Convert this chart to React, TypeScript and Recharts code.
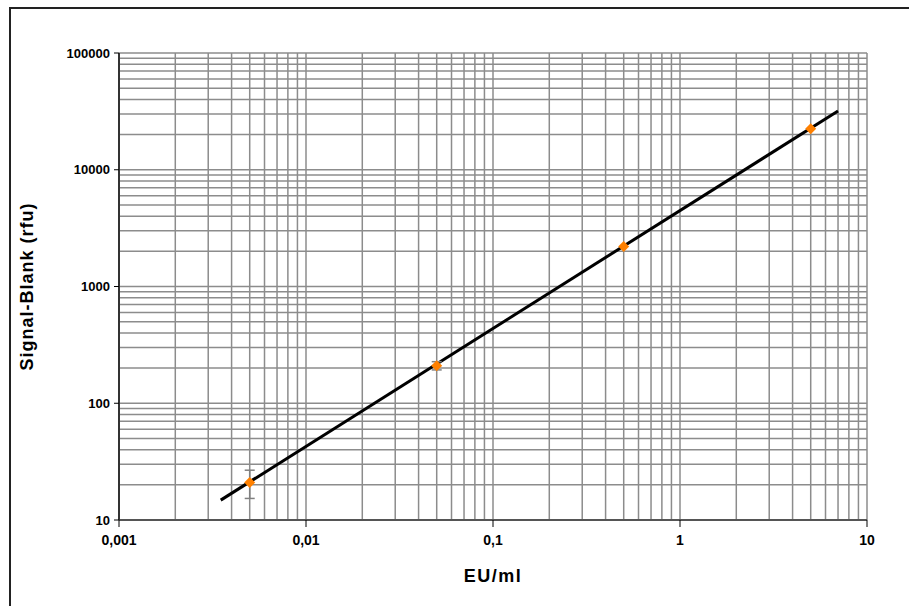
import { ComposedChart, Line, Scatter, ErrorBar, XAxis, YAxis, ReferenceLine } from 'recharts';

// measured standards (EU/ml) and blank-corrected signal (rfu)
const concentrations = [0.005, 0.05, 0.5, 5];
const signals = [21, 210, 2200, 22500];
const signalErrors = [5.7, 17, null, null];

// ends of the fitted power-law line
const fitX = [0.0035, 7];
const fitY = [14.8, 31900];

const xTicks = [0.001, 0.01, 0.1, 1, 10];
const yTicks = [10, 100, 1000, 10000, 100000];
const minorSteps = [1, 2, 3, 4, 5, 6, 7, 8, 9];

const points = concentrations.map((x, i) => ({ x, y: signals[i], err: signalErrors[i] }));
const fitLine = fitX.map((x, i) => ({ x, y: fitY[i] }));

const gridFrom = (ticks: number[]) => {
  const out: number[] = [];
  ticks.slice(0, -1).forEach((d) => minorSteps.forEach((m) => out.push(+(d * m).toPrecision(3))));
  out.push(ticks[ticks.length - 1]);
  return out;
};
const xGrid = gridFrom(xTicks);
const yGrid = gridFrom(yTicks);

const font = 'Arial, "Liberation Sans", sans-serif';
const gridColor = '#8c8c8c';

const Diamond = (props: any) => {
  const { cx, cy } = props;
  const r = 5.5;
  return (
    <polygon
      points={`${cx},${cy - r} ${cx + r},${cy} ${cx},${cy + r} ${cx - r},${cy}`}
      fill="#ff8000"
    />
  );
};

export default function App() {
  return (
    <div style={{ position: 'fixed', left: 0, top: 0, width: 909, height: 606, background: '#fff', overflow: 'hidden' }}>
      <div style={{ position: 'absolute', left: 9, top: 7, width: 1000, height: 700, border: '2px solid #222' }} />
      <ComposedChart
        width={909}
        height={606}
        margin={{ top: 53, right: 42, bottom: 0, left: 0 }}
        style={{ position: 'absolute', left: 0, top: 0, fontFamily: font }}
      >
        <XAxis
          type="number"
          dataKey="x"
          scale="log"
          domain={[0.001, 10]}
          ticks={xTicks}
          allowDataOverflow
          height={86}
          tickSize={7}
          tickMargin={8}
          axisLine={{ stroke: '#555', strokeWidth: 2 }}
          tickLine={{ stroke: '#000' }}
          tick={{ fill: '#000', fontSize: 14, fontWeight: 'bold' }}
          tickFormatter={(v) => String(v).replace('.', ',')}
        />
        <YAxis
          type="number"
          dataKey="y"
          scale="log"
          domain={[10, 100000]}
          ticks={yTicks}
          allowDataOverflow
          width={119}
          tickSize={5}
          tickMargin={4}
          axisLine={{ stroke: '#333', strokeWidth: 2 }}
          tickLine={{ stroke: '#000' }}
          tick={{ fill: '#000', fontSize: 13, fontWeight: 'bold' }}
        />
        {xGrid.map((v) => (
          <ReferenceLine key={'x' + v} x={v} stroke={gridColor} strokeWidth={1.5} ifOverflow="extendDomain" />
        ))}
        {yGrid.map((v) => (
          <ReferenceLine key={'y' + v} y={v} stroke={gridColor} strokeWidth={1.5} ifOverflow="extendDomain" />
        ))}
        <Line
          data={fitLine}
          dataKey="y"
          stroke="#000"
          strokeWidth={3}
          dot={false}
          activeDot={false}
          isAnimationActive={false}
        />
        <Scatter data={points} dataKey="y" shape={Diamond} isAnimationActive={false}>
          <ErrorBar dataKey="err" direction="y" width={5} stroke="#808080" strokeWidth={1.5} />
        </Scatter>
        <text x={493} y={582} textAnchor="middle" fontSize={18} fontWeight="bold" letterSpacing={1.5} fill="#000">
          EU/ml
        </text>
        <text
          x={33}
          y={286.5}
          transform="rotate(-90 33 286.5)"
          textAnchor="middle"
          fontSize={18}
          fontWeight="bold"
          letterSpacing={1}
          fill="#000"
        >
          Signal-Blank (rfu)
        </text>
      </ComposedChart>
    </div>
  );
}
